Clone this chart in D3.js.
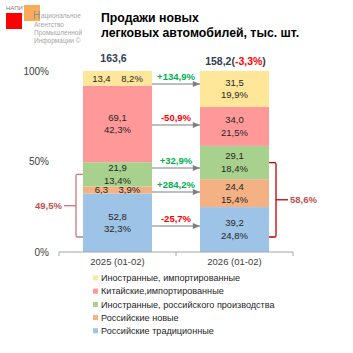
<!DOCTYPE html>
<html>
<head>
<meta charset="utf-8">
<script src="https://cdn.jsdelivr.net/npm/d3@7"></script>
<style>
	body { margin: 0; background: #fff; }
	svg { display: block; font-family: "Liberation Sans", Arial, sans-serif; }
</style>
</head>
<body>
<div class="chart"></div>
<script>
// data, bottom segment first
var years = ["2025 (01-02)", "2026 (01-02)"];
var series = ["Российские традиционные", "Российские новые", "Иностранные, российского производства", "Китайские,импортированные", "Иностранные, импортированные"];
var colors = ["#9DC3E6", "#F4B183", "#A9D18E", "#FF9999", "#FFE699"];
var values2025 = [52.8, 6.3, 21.9, 69.1, 13.4];
var values2026 = [39.2, 24.4, 29.1, 34.0, 31.5];
var shares2025 = [32.3, 3.9, 13.4, 42.3, 8.2];
var shares2026 = [24.8, 15.4, 18.4, 21.5, 19.9];
var changes = ["-25,7%", "+284,2%", "+32,9%", "-50,9%", "+134,9%"];
var totals = ["163,6", "158,2"];
var totalChange = "-3,3%";
var bracketTotals = ["49,5%", "58,6%"];
var yTicks = [0, 50, 100];

var width = 353, height = 353;

function fmt(v, d) {
	return v.toFixed(d).replace(".", ",");
}

function makeSvg(w, h, div_class) {
	return d3.select("." + div_class).append("svg")
		.attr("width", w)
		.attr("height", h);
}

var svg = makeSvg(width, height, "chart");

// logo
var logo = svg.append("g");
logo.append("rect").attr("x", 6).attr("y", 13).attr("width", 16).attr("height", 16).attr("fill", "#FF0000");
logo.append("rect").attr("x", 24).attr("y", 5).attr("width", 16).attr("height", 16).attr("fill", "#F7A348").attr("opacity", 0.9);
logo.append("text").attr("x", 6).attr("y", 10).attr("font-size", 6).attr("fill", "#7F7F7F").text("НАПИ");
logo.append("text").attr("x", 33).attr("y", 19).attr("font-size", 10).attr("fill", "#8C8C8C").text("Н");
["ациональное", "Агентство", "Промышленной", "Информации ©"].forEach(function(t, i) {
	logo.append("text")
		.attr("x", i == 0 ? 41 : 34).attr("y", i == 0 ? 18 : 19 + i * 8)
		.attr("font-size", 6.5)
		.attr("fill", "#A6A6A6")
		.text(t);
});

// title
svg.append("text").attr("x", 101).attr("y", 22)
	.attr("font-size", 12.3).attr("font-weight", "bold").attr("fill", "#000")
	.text("Продажи новых");
svg.append("text").attr("x", 101).attr("y", 37)
	.attr("font-size", 12.3).attr("font-weight", "bold").attr("fill", "#000")
	.text("легковых автомобилей, тыс. шт.");

// scales
var x = d3.scaleBand().domain(years).range([59, 293]).paddingInner(0.41).paddingOuter(0.205);
var y = d3.scaleLinear().domain([0, 100]).range([252, 71]);

function stackOf(shares) {
	var acc = 0;
	return shares.map(function(s) {
		var seg = {y0: acc, y1: acc + s};
		acc += s;
		return seg;
	});
}
// normalise the top so the stack meets 100%
var stacks = [shares2025, shares2026].map(function(sh) {
	var st = stackOf(sh);
	st[st.length - 1].y1 = 100;
	return st;
});
var vals = [values2025, values2026];
var shares = [shares2025, shares2026];

// y labels
svg.append("g").selectAll("text").data(yTicks).join("text")
	.attr("x", 49).attr("y", function(d) { return y(d); })
	.attr("dy", "0.35em").attr("text-anchor", "end")
	.attr("font-size", 10).attr("fill", "#404040")
	.text(function(d) { return d + "%"; });

// bars
years.forEach(function(yr, b) {
	var g = svg.append("g");
	g.selectAll("rect").data(stacks[b]).join("rect")
		.attr("x", x(yr))
		.attr("width", x.bandwidth())
		.attr("y", function(d) { return y(d.y1); })
		.attr("height", function(d) { return y(d.y0) - y(d.y1); })
		.attr("fill", function(d, i) { return colors[i]; });

	stacks[b].forEach(function(d, i) {
		var cx = x(yr) + x.bandwidth() / 2;
		var cy = (y(d.y0) + y(d.y1)) / 2;
		var h = y(d.y0) - y(d.y1);
		var t = g.append("text").attr("font-size", 9.5).attr("fill", "#262626").attr("text-anchor", "middle");
		if (h < 18) {
			t.attr("x", cx).attr("y", cy).attr("dy", "0.35em")
				.attr("xml:space", "preserve")
				.text(fmt(vals[b][i], 1) + "    " + fmt(shares[b][i], 1) + "%");
		} else {
			t.append("tspan").attr("x", cx).attr("y", cy - 6.5).attr("dy", "0.35em").text(fmt(vals[b][i], 1));
			t.append("tspan").attr("x", cx).attr("y", cy + 6).attr("dy", "0.35em").text(fmt(shares[b][i], 1) + "%");
		}
	});
});

// totals
svg.append("text").attr("x", x(years[0]) + x.bandwidth() / 2 - 4).attr("y", y(100) - 9)
	.attr("text-anchor", "middle").attr("font-size", 10.5).attr("font-weight", "bold").attr("fill", "#333F50")
	.text(totals[0]);
var tt = svg.append("text").attr("x", x(years[1]) + x.bandwidth() / 2 + 1).attr("y", y(100) - 6)
	.attr("text-anchor", "middle").attr("font-size", 10.5).attr("font-weight", "bold").attr("fill", "#333F50");
tt.append("tspan").text(totals[1] + "(");
tt.append("tspan").attr("fill", "#FF0000").text(totalChange);
tt.append("tspan").text(")");

// change arrows between the bars
svg.append("defs").append("marker")
	.attr("id", "arr").attr("viewBox", "0 0 10 10").attr("refX", 10).attr("refY", 5)
	.attr("markerWidth", 7).attr("markerHeight", 6).attr("orient", "auto")
	.append("path").attr("d", "M0,1L10,5L0,9Z").attr("fill", "#7F7F7F");

var x1 = x(years[0]) + x.bandwidth(), x2 = x(years[1]);
changes.forEach(function(c, i) {
	var c1 = (y(stacks[0][i].y0) + y(stacks[0][i].y1)) / 2;
	var c2 = (y(stacks[1][i].y0) + y(stacks[1][i].y1)) / 2;
	var ly = Math.round((c1 + c2) / 2);
	svg.append("line").attr("x1", x1).attr("x2", x2).attr("y1", ly).attr("y2", ly)
		.attr("stroke", "#7F7F7F").attr("stroke-width", 1.2).attr("marker-end", "url(#arr)");
	svg.append("text").attr("x", (x1 + x2) / 2).attr("y", ly - 4)
		.attr("text-anchor", "middle").attr("font-size", 9.5).attr("font-weight", "bold")
		.attr("fill", c[0] == "+" ? "#00B050" : "#FF0000")
		.text(c);
});

// brackets over the first three segments
function bracket(b, side, label, color) {
	var st = stacks[b];
	var top = (y(st[2].y0) + y(st[2].y1)) / 2;
	var bot = y(8.3);
	var mid = (top + bot) / 2;
	var xb = side < 0 ? x(years[b]) - 7 : x(years[b]) + x.bandwidth() + 7;
	var xe = side < 0 ? x(years[b]) : x(years[b]) + x.bandwidth();
	var p = d3.path();
	p.moveTo(xe, top); p.lineTo(xb - side * 1, top); p.quadraticCurveTo(xb, top, xb, top + 2);
	p.lineTo(xb, bot - 2); p.quadraticCurveTo(xb, bot, xb - side * 1, bot); p.lineTo(xe, bot);
	svg.append("path").attr("d", p.toString()).attr("fill", "none").attr("stroke", color).attr("stroke-width", 1.3);
	svg.append("line").attr("x1", xb).attr("x2", xb + side * 12).attr("y1", mid).attr("y2", mid)
		.attr("stroke", color).attr("stroke-width", 1.3);
	svg.append("text").attr("x", xb + side * 14).attr("y", mid).attr("dy", "0.35em")
		.attr("text-anchor", side < 0 ? "end" : "start")
		.attr("font-size", 9.5).attr("font-weight", "bold").attr("fill", "#C0504D")
		.text(label);
}
bracket(0, -1, bracketTotals[0], "#C9787C");
bracket(1, 1, bracketTotals[1], "#C00000");

// x axis
var xa = svg.append("g").attr("transform", "translate(0," + y(0) + ")");
xa.append("line").attr("x1", 59).attr("x2", 293).attr("stroke", "#A6A6A6");
xa.selectAll(".tk").data([59, 176, 293]).join("line")
	.attr("x1", function(d) { return d; }).attr("x2", function(d) { return d; })
	.attr("y1", 0).attr("y2", 4).attr("stroke", "#A6A6A6");
xa.selectAll("text").data(years).join("text")
	.attr("x", function(d) { return x(d) + x.bandwidth() / 2; }).attr("y", 10)
	.attr("dy", "0.35em").attr("text-anchor", "middle")
	.attr("font-size", 9.5).attr("fill", "#404040")
	.text(function(d) { return d; });

// legend, top series first
var legendItems = series.map(function(s, i) { return {name: s, color: colors[i]}; }).reverse();
var lg = svg.append("g").selectAll("g").data(legendItems).join("g")
	.attr("transform", function(d, i) { return "translate(93," + (278 + i * 13.2) + ")"; });
lg.append("rect").attr("x", 0).attr("y", -2.5).attr("width", 5).attr("height", 5)
	.attr("fill", function(d) { return d.color; });
lg.append("text").attr("x", 8).attr("dy", "0.35em").attr("font-size", 9.1).attr("fill", "#262626")
	.text(function(d) { return d.name; });
</script>
</body>
</html>
